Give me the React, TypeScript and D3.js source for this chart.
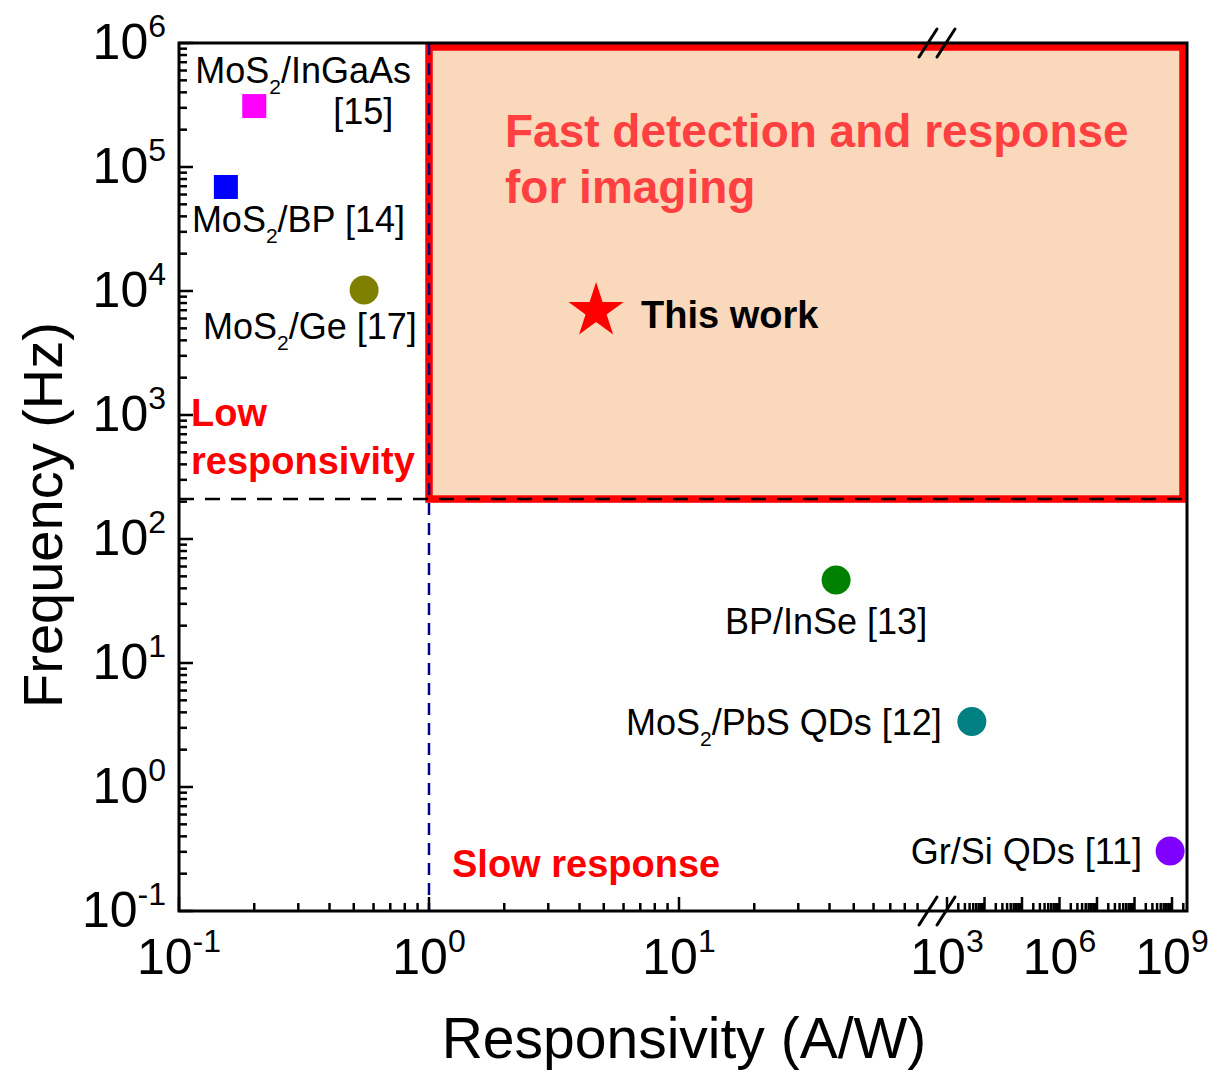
import * as d3 from "d3";

// ---- data ----
const names = ["MoS_2/InGaAs", "MoS_2/BP", "MoS_2/Ge", "BP/InSe", "MoS_2/PbS QDs", "Gr/Si QDs"];
const refs = ["[15]", "[14]", "[17]", "[13]", "[12]", "[11]"];
const responsivity = [0.2, 0.154, 0.55, 42.5, 4.6e3, 8.9e8];
const frequency = [3.1e5, 6.9e4, 1.02e4, 46.7, 3.37, 0.305];
const markerColors = ["#FF00FF", "#0000FF", "#808000", "#008000", "#008080", "#8000FF"];
const markerShapes = ["square", "square", "circle", "circle", "circle", "circle"];

const thisWorkResp = [4.66];
const thisWorkFreq = [6.9e3];

const thresholdResp = 1;
const thresholdFreq = 210;

const yTickExps = [-1, 0, 1, 2, 3, 4, 5, 6];
const xTickExps = [-1, 0, 1, 3, 6, 9];

// label placement relative to marker (px)
const labelDx = [-59, -34, -161, -10, -30, -28];
const labelDy = [-23, 45, 49, 54, 13, 13];
const labelAnchor = ["start", "start", "start", "middle", "end", "end"];

const FONT = "'Liberation Sans', Arial, Helvetica, sans-serif";

const left = 179, right = 1187, top = 43, bottom = 911;
const breakLo = 100, breakHi = 1e3;

const x1 = d3.scaleLog().domain([0.1, breakLo]).range([left, 929]);
const x2 = d3.scaleLog().domain([breakHi, Math.pow(10, 9.4)]).range([947, right]);
const xPos = (v: number) => (v <= breakLo ? x1(v) : x2(v));
const y = d3.scaleLog().domain([0.1, 1e6]).range([bottom, top]);

function minorTicks(lo: number, hi: number, maxV: number) {
  const out: number[] = [];
  for (let d = lo; d <= hi; d++) {
    for (let m = 2; m <= 9; m++) {
      const v = m * Math.pow(10, d);
      if (v < maxV) out.push(v);
    }
  }
  return out;
}

const yMajor = d3.range(-1, 7).map((e) => Math.pow(10, e));
const yMinor = minorTicks(-1, 5, 1e6);
const xMajor = [0.1, 1, 10, ...d3.range(3, 10).map((e) => Math.pow(10, e))];
const xMinor = [...minorTicks(-1, 1, breakLo), ...minorTicks(3, 9, Math.pow(10, 9.4))];

function Label({ text, x, y, anchor }: { text: string; x: number; y: number; anchor: string }) {
  const parts = text.split("_2");
  return (
    <text x={x} y={y} textAnchor={anchor} fontSize={36} fontFamily={FONT} fill="#000">
      {parts[0]}
      {parts.length > 1 && (
        <>
          <tspan fontSize={21} dy={11}>2</tspan>
          <tspan dy={-11}>{parts[1]}</tspan>
        </>
      )}
    </text>
  );
}

function Pow({ x, y, exp, anchor }: { x: number; y: number; exp: number; anchor: string }) {
  return (
    <text x={x} y={y} textAnchor={anchor} fontSize={50} fontFamily={FONT} fill="#000">
      10
      <tspan fontSize={32} dy={-22}>{String(exp)}</tspan>
    </text>
  );
}

function BreakMark({ cx, cy }: { cx: number; cy: number }) {
  return (
    <g stroke="#000" strokeWidth={3} strokeLinecap="round">
      <line x1={cx - 9} y1={cy + 14} x2={cx + 9} y2={cy - 14} />
      <line x1={cx + 9} y1={cy + 14} x2={cx + 27} y2={cy - 14} />
    </g>
  );
}

export default function App() {
  const star = d3.symbol(d3.symbolStar, 944)() as string;
  const yThr = y(thresholdFreq);
  const xThr = xPos(thresholdResp);

  return (
    <svg width={1221} height={1072} style={{ position: "absolute", left: 0, top: 0, background: "#fff" }}>
      {/* fast region */}
      <rect
        x={xThr}
        y={top + 4}
        width={right - 4 - xThr}
        height={yThr - top - 4}
        fill="#F9D8BC"
        stroke="#FF0000"
        strokeWidth={7.5}
      />

      {/* threshold lines */}
      <line x1={xThr} x2={xThr} y1={top} y2={bottom} stroke="#000080" strokeWidth={2.5} strokeDasharray="12 8" />
      <line x1={left} x2={right} y1={yThr} y2={yThr} stroke="#000" strokeWidth={2.5} strokeDasharray="15 11" />

      {/* ticks */}
      <g stroke="#000" strokeWidth={2.5}>
        {yMajor.map((v) => (
          <line key={"ym" + v} x1={left} x2={left + 14} y1={y(v)} y2={y(v)} />
        ))}
        {yMinor.map((v) => (
          <line key={"yn" + v} x1={left} x2={left + 8} y1={y(v)} y2={y(v)} />
        ))}
        {xMajor.map((v) => (
          <line key={"xm" + v} x1={xPos(v)} x2={xPos(v)} y1={bottom} y2={bottom - 14} />
        ))}
        {xMinor.map((v) => (
          <line key={"xn" + v} x1={xPos(v)} x2={xPos(v)} y1={bottom} y2={bottom - 8} />
        ))}
      </g>

      {/* frame */}
      <rect x={left} y={top} width={right - left} height={bottom - top} fill="none" stroke="#000" strokeWidth={3} />
      <BreakMark cx={928} cy={top} />
      <BreakMark cx={928} cy={bottom} />

      {/* tick labels */}
      {yTickExps.map((e) => (
        <Pow key={"yl" + e} x={166} y={y(Math.pow(10, e)) + 16} exp={e} anchor="end" />
      ))}
      {xTickExps.map((e) => (
        <Pow key={"xl" + e} x={xPos(Math.pow(10, e))} y={974} exp={e} anchor="middle" />
      ))}

      {/* axis titles */}
      <text
        transform="translate(62,515) rotate(-90)"
        textAnchor="middle"
        fontSize={56}
        fontFamily={FONT}
        fill="#000"
      >
        Frequency (Hz)
      </text>
      <text x={684} y={1058} textAnchor="middle" fontSize={57} fontFamily={FONT} fill="#000">
        Responsivity (A/W)
      </text>

      {/* region annotations */}
      <g fontFamily={FONT} fontWeight="bold">
        <text x={505} y={147} fontSize={46} fill="#FF4040">Fast detection and response</text>
        <text x={505} y={203} fontSize={46} fill="#FF4040">for imaging</text>
        <text x={191} y={426} fontSize={38} fill="#FF0000">Low</text>
        <text x={191} y={474} fontSize={38} fill="#FF0000">responsivity</text>
        <text x={452} y={877} fontSize={38} fill="#FF0000">Slow response</text>
      </g>

      {/* literature points */}
      {names.map((n, i) => {
        const cx = xPos(responsivity[i]);
        const cy = y(frequency[i]);
        return (
          <g key={n}>
            {markerShapes[i] === "square" ? (
              <rect x={cx - 12} y={cy - 12} width={24} height={24} fill={markerColors[i]} />
            ) : (
              <circle cx={cx} cy={cy} r={14.5} fill={markerColors[i]} />
            )}
            {i === 0 ? (
              <>
                <Label text={n} x={cx + labelDx[i]} y={cy + labelDy[i]} anchor="start" />
                <Label text={refs[i]} x={cx + 79} y={cy + 18} anchor="start" />
              </>
            ) : (
              <Label text={n + " " + refs[i]} x={cx + labelDx[i]} y={cy + labelDy[i]} anchor={labelAnchor[i]} />
            )}
          </g>
        );
      })}

      {/* this work */}
      {thisWorkResp.map((r, i) => {
        const cx = xPos(r);
        const cy = y(thisWorkFreq[i]);
        return (
          <g key={"tw" + i}>
            <path d={star} transform={`translate(${cx},${cy})`} fill="#FF0000" />
            <text x={cx + 45} y={cy + 17} fontSize={38} fontWeight="bold" fontFamily={FONT} fill="#000">
              This work
            </text>
          </g>
        );
      })}
    </svg>
  );
}
